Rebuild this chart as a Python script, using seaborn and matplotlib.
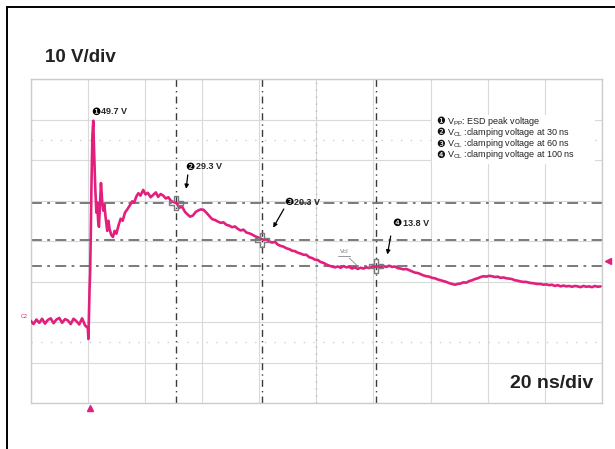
import pandas as pd
import seaborn as sns
import matplotlib.pyplot as plt
from matplotlib.lines import Line2D
from matplotlib.patches import Rectangle

# scope trace (20 ns/div, 10 V/div, trigger at 0 ns)
time_ns = [-20, -19, -18, -17, -16, -15, -14, -13, -12, -11, -10, -9, -8, -7, -6, -5, -4, -3, -2, -1,
           0, 0.2, 0.4, 0.6, 0.8, 1.0, 1.3, 1.6, 1.9, 2.2, 2.6, 3.0, 3.3, 3.6, 3.9, 4.3, 4.6, 5.0,
           5.4, 5.8, 6.2, 6.8, 7.2, 7.6, 8.2, 8.8, 9.4, 10, 10.8, 11.5, 12.2, 13, 13.8, 14.8, 15.5,
           16.2, 17, 17.7, 18.4, 19.4, 20.2, 21, 22, 22.9, 23.8, 24.6, 25.5, 26.4, 27.3, 28.2, 29.2,
           30.1, 31.1, 32, 33, 34, 35, 35.8, 36.8, 37.8, 38.8, 39.6, 40.5, 41.5, 42.5, 43.5, 44.5,
           45.5, 46.5, 47.5, 48.5, 49.5, 50.5, 51.5, 52.5, 53.5, 54.5, 55.5, 56.5, 57.5, 58.5, 59.5,
           60.5, 61.5, 62.5, 63.5, 64.5, 65.5, 66.5, 67.5, 68.5, 69.5, 70.5, 71.5, 72.5, 73.5, 74.5,
           75.5, 76.5, 77.5, 78.5, 79.5, 80.5, 81.5, 82.5, 83.5, 84.5, 85.5, 86.5, 87.5, 88.5, 89.5,
           90.5, 91.5, 92.5, 93.5, 94.5, 95.5, 96.5, 97.5, 98.5, 99.5, 100.5, 101.5, 102.5, 103.5,
           104.5, 105.5, 106.5, 107.5, 108.5, 109.5, 110.5, 111.5, 112.5, 113.5, 114.5, 115.5, 116.5,
           117.5, 118.5, 119.5, 120.5, 121.5, 122.5, 123.5, 124.5, 125.5, 126.5, 127.5, 128.5, 129.5,
           130.5, 131.5, 132.5, 133.5, 134.5, 135.5, 136.5, 137.5, 138.5, 139.5, 140.5, 141.5, 142.5,
           143.5, 144.5, 145.5, 146.5, 147.5, 148.5, 149.5, 150.5, 151.5, 152.5, 153.5, 154.5, 155.5,
           156.5, 157.5, 158.5, 159.5, 160.5, 161.5, 162.5, 163.5, 164.5, 165.5, 166.5, 167.5, 168.5,
           169.5, 170.5, 171.5, 172.5, 173.5, 174.5, 175.5, 176.5, 177.5, 178.5, 179.5]
trace_v = [0.3, -0.5, 0.6, -0.2, 0.8, -0.4, 0.5, 0.9, -0.3, 0.6, 1.0, -0.2, 0.7, 0.4, -0.5, 0.8, 0.2, -0.6, 0.9, -0.8,
           -1.5, -4.2, 2, 8, 12, 20, 35, 46, 49.7, 42, 33, 27, 29.5, 25, 23.5, 30, 34.3, 30,
           27.5, 29, 26, 22.5, 25, 23, 21.5, 21, 22.5, 21.8, 24, 25.5, 25, 27, 27.8, 28.9, 29.8,
           29.5, 31, 31.8, 31.2, 32.6, 31.5, 31.9, 30.8, 31.4, 32, 30.9, 31.6, 31.2, 30.5, 30.8, 29.8,
           29.6, 29.3, 28.2, 28.5, 27.2, 26.5, 26, 26.3, 27.2, 27.6, 27.8, 27.7, 27.0, 26.2, 25.4, 25.2,
           24.8, 24.5, 24.6, 24, 23.8, 23.4, 23.6, 23, 22.6, 22.8, 22.1, 21.9, 21.6, 21.2, 20.9,
           20.6, 20.3, 20.4, 19.9, 19.6, 19.8, 19.1, 18.8, 18.6, 18.2, 18, 17.6, 17.5, 17.1, 16.9,
           16.6, 16.6, 16, 15.8, 15.4, 15.3, 14.8, 14.6, 14.2, 13.9, 13.7, 13.5, 13.7, 13.4, 13.8,
           13.5, 13.6, 13.2, 13.5, 13.1, 13.4, 13.2, 13.5, 13.3, 13.7, 13.6, 13.7, 13.4, 13.8,
           13.6, 13.9, 13.6, 13.7, 13.3, 13.2, 13, 13.1, 12.8, 12.5, 12.2, 12.1, 11.8,
           11.5, 11.3, 11.2, 10.9, 10.8, 10.5, 10.3, 10.1, 9.9, 9.6, 9.4, 9.2, 9.4,
           9.5, 9.8, 9.7, 10.1, 10.3, 10.6, 10.8, 11.1, 11.3, 11.2, 11.4, 11.3, 11.1,
           11.2, 10.9, 11, 10.8, 10.7, 10.6, 10.3, 10.2, 10, 9.9, 9.9, 9.7, 9.6,
           9.5, 9.4, 9.4, 9.2, 9.3, 9.1, 9.2, 8.9, 9.1, 8.8, 9, 8.8, 8.9,
           8.7, 8.9, 8.8, 8.6, 8.9, 8.7, 8.8, 8.6, 8.9, 8.7, 8.8]

cursor_t = [31, 61, 101]
cursor_v = [29.3, 20.3, 13.8]
peak_t, peak_v = 1.9, 49.7
marks = ['❶', '❷', '❸', '❹']
point_values = ['49.7 V', '29.3 V', '20.3 V', '13.8 V']
legend_lines = ['V$_\\mathregular{PP}$: ESD peak voltage',
                'V$_\\mathregular{CL}$ :clamping voltage at 30 ns',
                'V$_\\mathregular{CL}$ :clamping voltage at 60 ns',
                'V$_\\mathregular{CL}$ :clamping voltage at 100 ns']

pink = '#e21f7d'

sns.set_style('white')
plt.rcParams['font.family'] = ['Liberation Sans', 'DejaVu Sans']
plt.rcParams['mathtext.fontset'] = 'custom'
plt.rcParams['mathtext.rm'] = 'Liberation Sans'

fig = plt.figure(figsize=(6.15, 4.49), dpi=100)
ax = fig.add_axes([30.7 / 615, 46 / 449, 571.3 / 615, 324 / 449])

# scope graticule
for t in range(-20, 181, 20):
    ax.axvline(t, color='#d9d9d9', lw=0.8, zorder=0)
for v in range(-20, 61, 10):
    ax.axhline(v, color='#d9d9d9', lw=0.8, zorder=0)
for v in [45, -5]:
    ax.axhline(v, color='#d0d0d0', lw=1.0, ls=(0, (1, 6)), zorder=0)
ax.axvline(80, color='#bdbdbd', lw=1.0, ls=(0, (1, 4)), zorder=0)

# cursors
for t in cursor_t:
    ax.axvline(t, color='#3a3a3a', lw=1.0, ls=(0, (5, 3, 1, 3)), zorder=1)
for v in cursor_v:
    ax.axhline(v, color='#707070', lw=1.3, ls=(0, (6, 3, 1.5, 3)), zorder=1)

# legend box (covers graticule)
ax.add_patch(Rectangle((120.5, 39.0), 57, 12.0, facecolor='white', edgecolor='none', zorder=1.5))

df = pd.DataFrame({'time_ns': time_ns, 'volts': trace_v})
sns.lineplot(data=df, x='time_ns', y='volts', ax=ax, color=pink, lw=1.9,
             estimator=None, sort=False, zorder=3)

ax.plot(cursor_t, cursor_v, ls='none', marker='P', ms=10, mfc='none', mec='#7a7a7a', mew=1.0, zorder=4)

ax.set_xlim(-20, 180)
ax.set_ylim(-20, 60)
ax.set_xticks([])
ax.set_yticks([])
ax.set_xlabel('')
ax.set_ylabel('')
for s in ax.spines.values():
    s.set_color('#cccccc')
    s.set_linewidth(1.0)

# point labels (circled number + value) with arrows
label_pos = [(2.7, 51.9), (35.8, 38.3), (70.3, 29.6), (108.3, 24.4)]
arrow_tail = [(35.1, 37.0), (69.1, 28.5), (106.2, 21.9)]
arrow_head = [(34.3, 32.2), (64.4, 22.7), (104.7, 16.0)]
for i in range(4):
    x, y = label_pos[i]
    ax.text(x, y, marks[i], fontsize=7.5, va='center', ha='center', color='black', zorder=5)
    ax.text(x + 2.0, y, point_values[i], fontsize=6.5, fontweight='bold', va='center', ha='left', zorder=5)
for i in range(3):
    ax.annotate('', xy=arrow_head[i], xytext=arrow_tail[i],
                arrowprops=dict(arrowstyle='-|>', color='black', lw=0.9, mutation_scale=6), zorder=5)

ax.text(89.7, 17.4, 'Vcl', fontsize=4.5, color='#777777', ha='center', va='center', zorder=5)
ax.plot([87.5, 91.8], [16.4, 16.4], color='#888888', lw=0.6, zorder=5)
ax.plot([91.5, 94.6], [15.8, 13.7], color='#888888', lw=0.6, zorder=5)

for i, line in enumerate(legend_lines):
    y = 49.6 - i * 2.78
    ax.text(123.4, y, marks[i], fontsize=7.0, va='center', ha='center', color='#111111', zorder=5)
    ax.text(125.6, y, line, fontsize=6.5, va='center', ha='left', color='#222222', zorder=5)

# trigger markers
ax.plot([0.7], [-21.3], marker='^', color=pink, ms=4, clip_on=False, zorder=5)
ax.plot([182.0], [15.0], marker='<', color=pink, ms=4, clip_on=False, zorder=5)

fig.text(24 / 615, 1 - 316 / 449, 'C2', fontsize=4, color=pink, ha='center', va='center')
fig.text(45 / 615, 1 - 57 / 449, '10 V/div', fontsize=13.5, fontweight='bold', va='center', ha='left', color='#222222')
fig.text(593 / 615, 1 - 383 / 449, '20 ns/div', fontsize=14, fontweight='bold', va='center', ha='right', color='#222222')

# black frame around the screenshot (left and top edges)
fig.add_artist(Line2D([6.5 / 615, 6.5 / 615], [0, 1 - 6.5 / 449], transform=fig.transFigure, color='black', lw=1.4))
fig.add_artist(Line2D([6.5 / 615, 1], [1 - 6.5 / 449, 1 - 6.5 / 449], transform=fig.transFigure, color='black', lw=1.4))

fig.savefig('out.png', dpi=100)
